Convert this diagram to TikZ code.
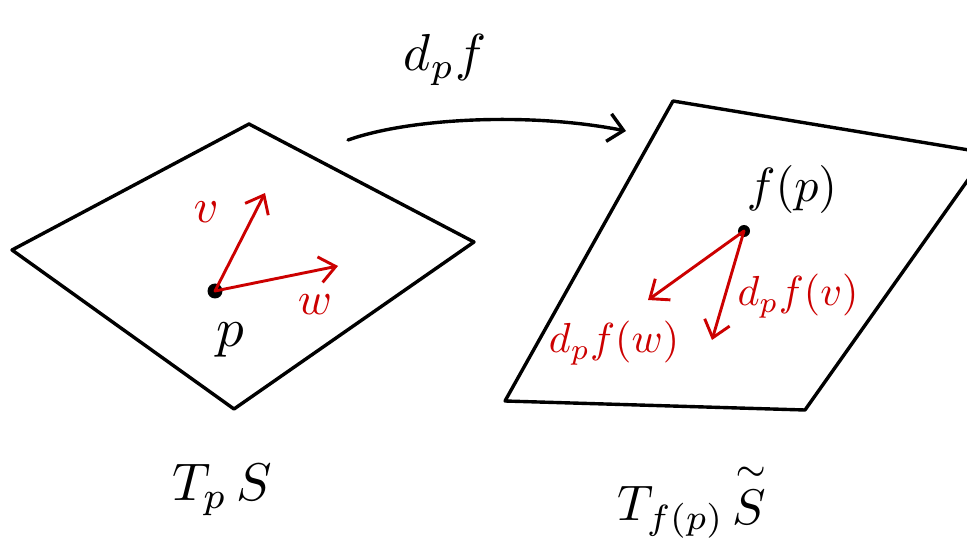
\documentclass[tikz,border=0pt]{standalone}
\usetikzlibrary{arrows.meta}
\definecolor{vred}{RGB}{204,0,0}
\newcommand{\sctxt}[2]{\scalebox{#1}{#2}}
\begin{document}
\begin{tikzpicture}[x=1pt,y=-1pt,
  plane/.style={draw=black,line width=3.4pt,line join=round},
  vec/.style={draw=vred,line width=2.9pt,line cap=round,-{Straight Barb[length=16pt,width=26pt,line width=2.9pt]}},
  dotpt/.style={circle,fill=black,inner sep=0pt,minimum size=#1},
  blk/.style={text=black,inner sep=0pt},
  rlab/.style={text=vred,inner sep=0pt}]
\useasboundingbox (0,0) rectangle (967,556);
\clip (0,0) rectangle (967,556);
% left plane
\draw[plane] (12,250) -- (249,124) -- (474,242) -- (234,409) -- cycle;
% right plane
\draw[plane] (673,101) -- (987,153) -- (805,410) -- (505,401) -- cycle;
% points
\node[dotpt=15pt] (p) at (215,291) {};
\node[dotpt=12pt] (fp) at (744,231) {};
\coordinate (vend) at (265,193);
\coordinate (wend) at (338,266);
\coordinate (dfwend) at (648,300);
\coordinate (dfvend) at (712,340);
\draw[vec] (p.center) -- (vend);
\draw[vec] (p.center) -- (wend);
\draw[vec] (fp.center) -- (dfwend);
\draw[vec] (fp.center) -- (dfvend);
% map arrow
\coordinate (a0) at (348,140);
\coordinate (a1) at (626,131);
\draw[line width=3.4pt,line cap=round,-{Straight Barb[length=15pt,width=28pt,line width=3.4pt]}]
  (a0) .. controls (410,118) and (530,112) .. (a1);
% labels
\node[blk] (dpf) at (445,60) {\sctxt{5.2}{$d_p f$}};
\node[rlab] (vl) at (206,212) {\sctxt{4.8}{$v$}};
\node[rlab] (wl) at (315,305) {\sctxt{4.6}{$w$}};
\node[blk] (pl) at (230,340) {\sctxt{5.5}{$p$}};
\node[blk] (fpl) at (792,190) {\sctxt{4.8}{$f(p)$}};
\node[rlab] (dfvl) at (798,296) {\sctxt{4.2}{$d_pf(v)$}};
\node[rlab] (dfwl) at (614,343) {\sctxt{4.2}{$d_pf(w)$}};
\node[blk] (tps) at (222,490) {\sctxt{5.3}{$T_p\,S$}};
\node[blk] (tfs) at (692,500) {\sctxt{5.0}{$T_{f(p)}\,\mathord{\stackrel{\sim}{S}}$}};
\end{tikzpicture}
\end{document}
